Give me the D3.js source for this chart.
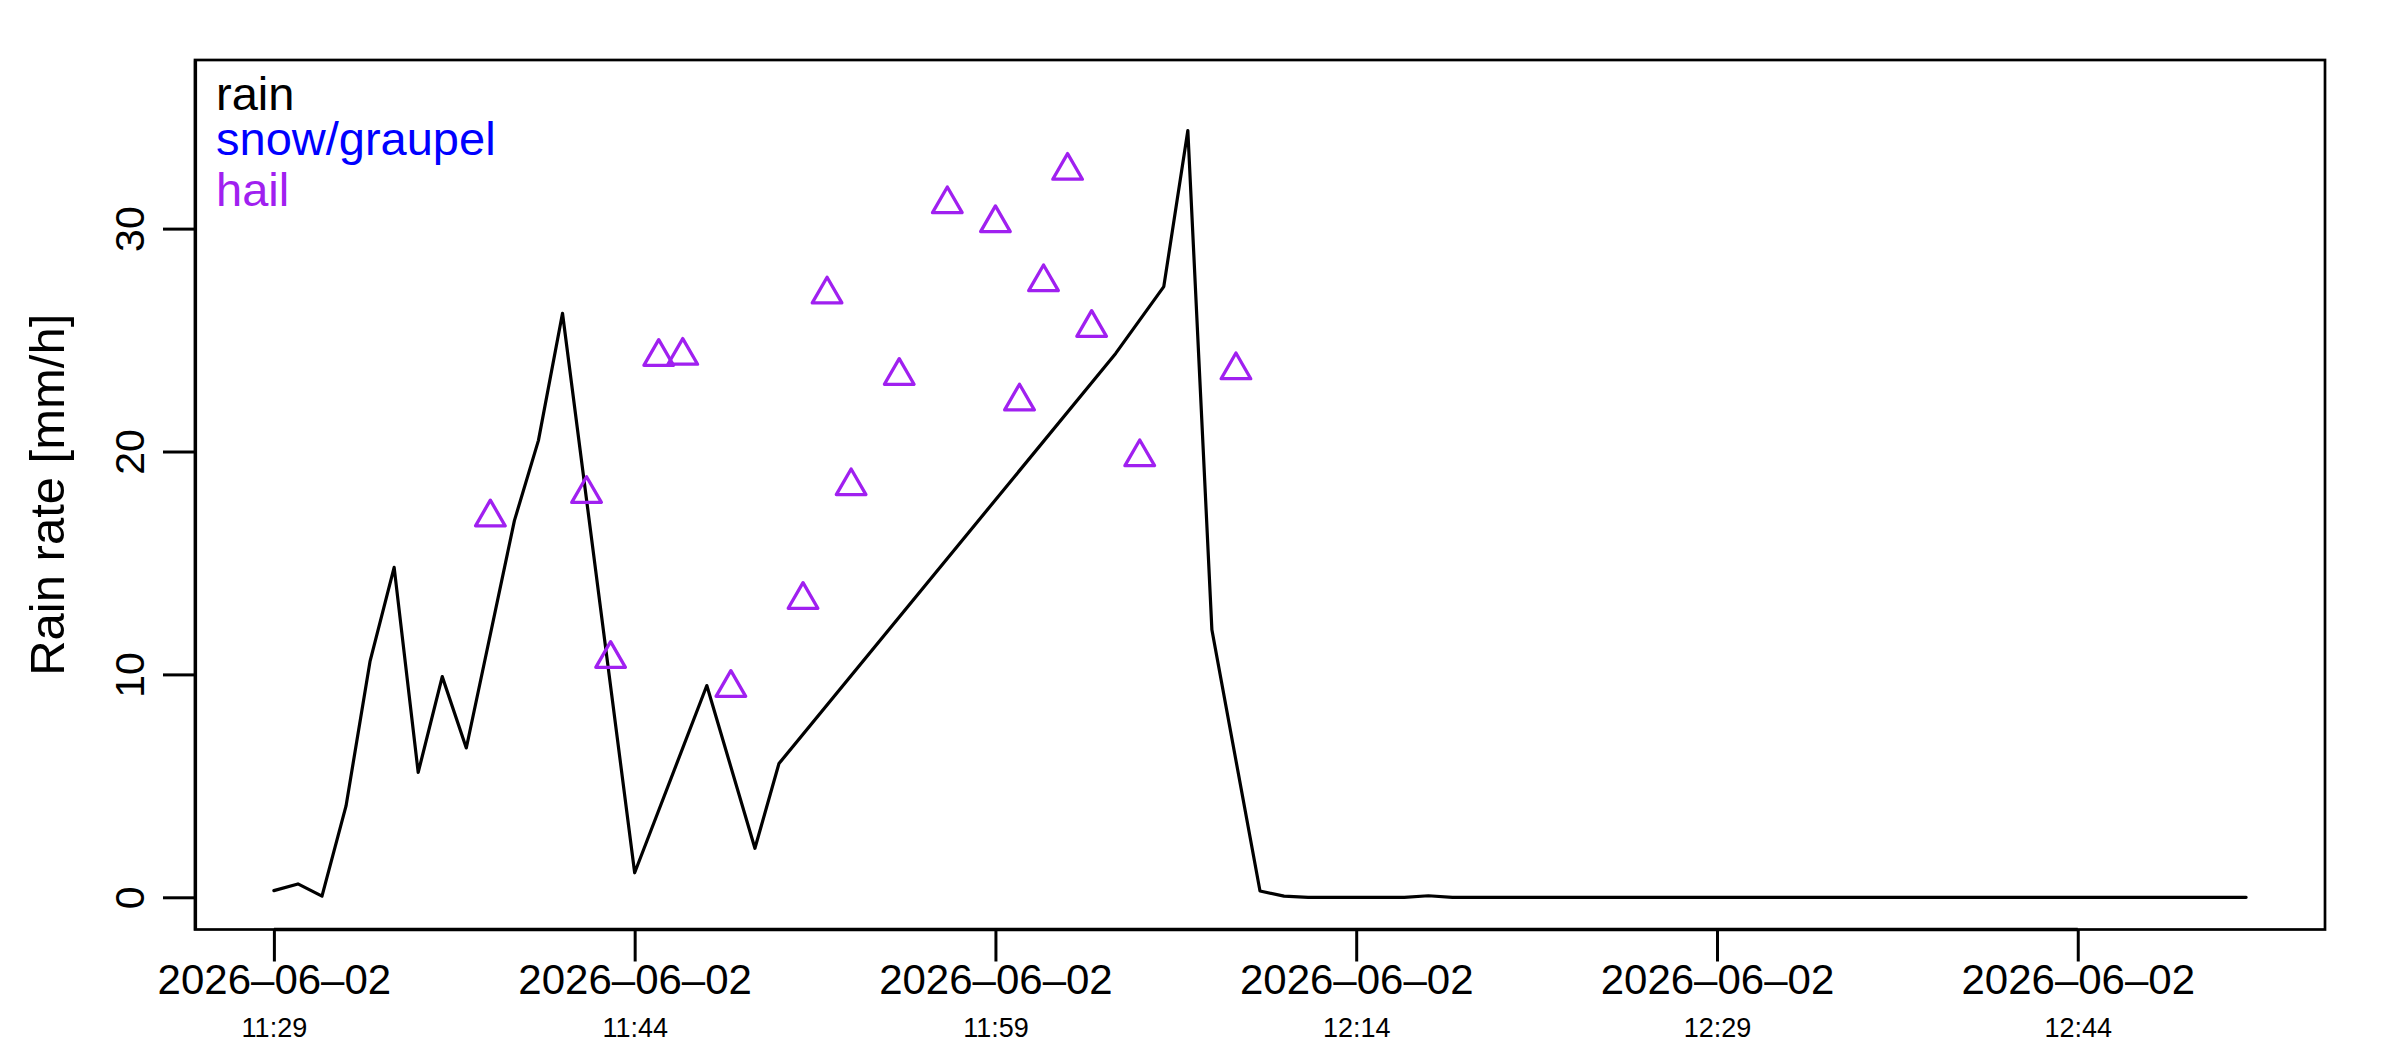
<!DOCTYPE html>
<html>
<head>
<meta charset="utf-8">
<script src="https://cdn.jsdelivr.net/npm/d3@7"></script>
<style>
  body { margin: 0; background: #fff; }
  text { font-family: "Liberation Sans", Arial, Helvetica, sans-serif; }
</style>
</head>
<body>
<div id="chart"></div>
<script>
// rain series (minutes without a rain value were flagged as hail)
const rainTimes = ["11:29","11:30","11:31","11:32","11:33","11:34","11:35","11:36","11:37",
  "11:39","11:40","11:41","11:44","11:47","11:49","11:50","12:04","12:06","12:07","12:08",
  "12:10","12:11","12:12","12:13","12:14","12:15","12:16","12:17","12:18","12:19","12:20",
  "12:21","12:22","12:23","12:24","12:25","12:26","12:27","12:28","12:29","12:30","12:31",
  "12:32","12:33","12:34","12:35","12:36","12:37","12:38","12:39","12:40","12:41","12:42",
  "12:43","12:44","12:45","12:46","12:47","12:48","12:49","12:50","12:51"];
const rainValues = [0.3, 0.6, 0.05, 4.1, 10.6, 14.8, 5.6, 9.9, 6.7,
  16.9, 20.5, 26.2, 1.1, 9.5, 2.2, 6.0, 24.4, 27.4, 34.4, 12.0,
  0.28, 0.05, 0, 0, 0, 0, 0, 0.07, 0, 0, 0,
  0, 0, 0, 0, 0, 0, 0, 0, 0, 0, 0,
  0, 0, 0, 0, 0, 0, 0, 0, 0, 0, 0,
  0, 0, 0, 0, 0, 0, 0, 0, 0];

// hail points
const hailTimes = ["11:38","11:42","11:43","11:45","11:46","11:48","11:51","11:52","11:53",
  "11:55","11:57","11:59","12:00","12:01","12:02","12:03","12:05","12:09"];
const hailValues = [17.05, 18.1, 10.7, 24.25, 24.3, 9.4, 13.35, 27.05, 18.45,
  23.4, 31.1, 30.25, 22.25, 27.6, 32.6, 25.55, 19.75, 23.65];

// snow/graupel points (none in this period)
const snowTimes = [];
const snowValues = [];

const tickTimes = ["11:29","11:44","11:59","12:14","12:29","12:44"];
const tickDate = "2026\u201306\u201302";
const yTicks = [0, 10, 20, 30];

const legendLabels = ["rain", "snow/graupel", "hail"];
const legendColors = ["#000000", "#0000FF", "#A020F0"];

const width = 2400;
const height = 1050;
const margin = {top: 60, right: 75, bottom: 120.5, left: 195};

const parseTime = d3.timeParse("%Y-%m-%d %H:%M");
const toDate = t => parseTime("2026-06-02 " + t);

const rain = rainTimes.map((t, i) => ({time: toDate(t), value: rainValues[i]}));
const hail = hailTimes.map((t, i) => ({time: toDate(t), value: hailValues[i]}));
const snow = snowTimes.map((t, i) => ({time: toDate(t), value: snowValues[i]}));

// R style 4% padding on both axes
const tExtent = d3.extent(rain, d => d.time);
const tPad = (tExtent[1] - tExtent[0]) * 0.04;
const yTop = d3.max(rain, d => d.value) * 1.05;
const yPad = yTop * 0.04;

const xScale = d3.scaleTime()
  .domain([new Date(+tExtent[0] - tPad), new Date(+tExtent[1] + tPad)])
  .range([margin.left, width - margin.right]);

const yScale = d3.scaleLinear()
  .domain([-yPad, yTop + yPad])
  .range([height - margin.bottom, margin.top]);

const svg = d3.select("#chart")
  .append("svg")
  .attr("width", width)
  .attr("height", height);

// plot box
svg.append("rect")
  .attr("x", margin.left)
  .attr("y", margin.top)
  .attr("width", width - margin.right - margin.left)
  .attr("height", height - margin.bottom - margin.top)
  .attr("fill", "none")
  .attr("stroke", "black")
  .attr("stroke-width", 2.7);

// x axis
const xAxis = d3.axisBottom(xScale)
  .tickValues(tickTimes.map(toDate))
  .tickSize(32)
  .tickSizeOuter(0)
  .tickFormat(() => "");

const xAxisGroup = svg.append("g")
  .attr("class", "xAxis")
  .attr("transform", `translate(0, ${height - margin.bottom})`)
  .call(xAxis);

xAxisGroup.select(".domain")
  .attr("d", `M${xScale(toDate(tickTimes[0]))},0H${xScale(toDate(tickTimes[tickTimes.length - 1]))}`)
  .attr("stroke-width", 3.6);
xAxisGroup.selectAll(".tick line").attr("stroke-width", 3);

xAxisGroup.selectAll(".tick")
  .append("text")
  .attr("y", 64)
  .attr("fill", "black")
  .attr("text-anchor", "middle")
  .attr("font-size", 42)
  .text(tickDate);

xAxisGroup.selectAll(".tick")
  .append("text")
  .attr("y", 107)
  .attr("fill", "black")
  .attr("text-anchor", "middle")
  .attr("font-size", 27)
  .text((d, i) => tickTimes[i]);

// y axis
const yAxis = d3.axisLeft(yScale)
  .tickValues(yTicks)
  .tickSize(32)
  .tickSizeOuter(0)
  .tickFormat(() => "");

const yAxisGroup = svg.append("g")
  .attr("class", "yAxis")
  .attr("transform", `translate(${margin.left}, 0)`)
  .call(yAxis);

yAxisGroup.select(".domain").attr("stroke-width", 3.2);
yAxisGroup.selectAll(".tick line").attr("stroke-width", 3);

yAxisGroup.selectAll(".tick")
  .append("text")
  .attr("transform", "translate(-51, 0) rotate(-90)")
  .attr("fill", "black")
  .attr("text-anchor", "middle")
  .attr("font-size", 41)
  .text(d => d);

svg.append("text")
  .attr("class", "yaxis-title")
  .attr("transform", `translate(64, ${(margin.top + height - margin.bottom) / 2}) rotate(-90)`)
  .attr("text-anchor", "middle")
  .attr("font-size", 49)
  .text("Rain rate [mm/h]");

// rain line
const line = d3.line()
  .x(d => xScale(d.time))
  .y(d => yScale(d.value));

svg.append("path")
  .datum(rain)
  .attr("fill", "none")
  .attr("stroke", legendColors[0])
  .attr("stroke-width", 3.2)
  .attr("stroke-linejoin", "round")
  .attr("stroke-linecap", "round")
  .attr("d", line);

// R pch = 2 triangle around the centroid
const r = 11;
const triangle = (cx, cy) =>
  `M${cx},${cy - 1.5551 * r}L${cx + 1.3468 * r},${cy + 0.7776 * r}L${cx - 1.3468 * r},${cy + 0.7776 * r}Z`;

svg.append("g")
  .selectAll("path")
  .data(snow)
  .join("path")
  .attr("d", d => triangle(xScale(d.time), yScale(d.value)))
  .attr("fill", "none")
  .attr("stroke", legendColors[1])
  .attr("stroke-width", 3.3);

svg.append("g")
  .selectAll("path")
  .data(hail)
  .join("path")
  .attr("d", d => triangle(xScale(d.time), yScale(d.value)))
  .attr("fill", "none")
  .attr("stroke", legendColors[2])
  .attr("stroke-width", 3.3)
  .attr("stroke-linejoin", "round");

// legend text
const legendY = [110, 155, 206];
svg.append("g")
  .selectAll("text")
  .data(legendLabels)
  .join("text")
  .attr("x", 216)
  .attr("y", (d, i) => legendY[i])
  .attr("fill", (d, i) => legendColors[i])
  .attr("font-size", 47)
  .text(d => d);
</script>
</body>
</html>
